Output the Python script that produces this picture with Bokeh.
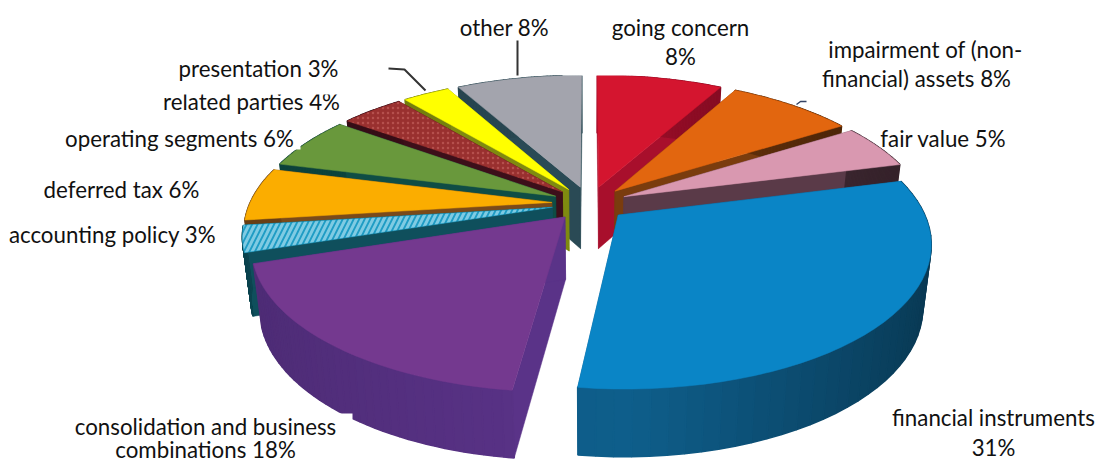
import numpy as np
from bokeh.plotting import figure
from bokeh.models import Range1d, ColumnDataSource
from bokeh.core.properties import value
from bokeh.embed import file_html
from bokeh.resources import INLINE

# ---- data -------------------------------------------------------------
categories = ["going concern", "impairment of (non-financial) assets", "fair value",
              "financial instruments", "consolidation and business combinations",
              "accounting policy", "deferred tax", "operating segments",
              "related parties", "presentation", "other"]
shares = [8, 8, 5, 31, 18, 3, 6, 6, 4, 3, 8]
top_colors = ["#d4152f", "#e2660f", "#d998b0", "#0a85c6", "#74398f", "#1f9cc4",
              "#fbad00", "#69983c", "#99302f", "#ffff00", "#a3a4ad"]
wall_colors = ["#a80f2c", "#7a3c0e", "#5a3a48", "#0f5f8c", "#5a3388", "#0f4f5c",
               "#7a4a1a", "#0f4d45", "#3d0f1a", "#7f8a10", "#2a4a55"]
hatches = [None, None, None, None, None, "right_diagonal_line", None, None, "dot", None, None]
hatch_colors = [None, None, None, None, None, "#7fcbe3", None, None, "#b5504d", None, None]

label_texts = ["other 8%", "going concern", "8%", "impairment of (non-", "financial) assets 8%",
               "fair value 5%", "presentation 3%", "operating segments 6%",
               "deferred tax 6%", "accounting policy 3%", "consolidation and business",
               "combinations 18%", "financial instruments", "31%"]
label_x = [504, 680, 680, 925, 916, 943, 258, 179, 121, 112, 205, 205, 993, 993]
label_y = [27, 27, 56, 49, 78, 138, 68, 138, 189, 234, 426, 449, 417, 447]

# ---- projection --------------------------------------------------------
CX, CY, RX, RY, K, EXPLODE, DEPTH = 589, 203, 302, 137.6, 0.182, 0.125, 62

def project(u, v, lower=False):
    s = 1 / (1 + K * v)
    x = RX * u * s
    y = RY * v * s
    if lower:
        return CX + x * 0.975, CY - y + DEPTH * s ** 0.4
    return CX + x, CY - y

def darken(hex_color, f):
    rgb = [int(hex_color[j:j + 2], 16) for j in (1, 3, 5)]
    return "#%02x%02x%02x" % tuple(int(c * (1 - f)) for c in rgb)

p = figure(width=1099, height=466, output_backend="svg", toolbar_location=None,
           x_range=Range1d(0, 1099), y_range=Range1d(466, 0), min_border=0,
           background_fill_color="white", outline_line_color=None)
p.axis.visible = False
p.grid.visible = False

edges = np.radians(np.cumsum([0] + shares) * 3.6)
mids = (edges[:-1] + edges[1:]) / 2

def poly(xs, ys, fill, hatch=None, hatch_color=None, lw=0.5):
    kw = {}
    if hatch == "dot":
        kw = dict(hatch_pattern=hatch, hatch_color=hatch_color, hatch_scale=5, hatch_weight=1, hatch_alpha=1)
    elif hatch:
        kw = dict(hatch_pattern=hatch, hatch_color=hatch_color, hatch_scale=11, hatch_weight=3, hatch_alpha=1)
    p.patch(list(xs), list(ys), fill_color=fill, line_color=fill, line_width=lw, **kw)

for i in sorted(range(len(shares)), key=lambda j: -np.cos(mids[j])):
    du, dv = EXPLODE * np.sin(mids[i]), EXPLODE * np.cos(mids[i])
    th = np.linspace(edges[i], edges[i + 1], 41)
    u, v = du + np.sin(th), dv + np.cos(th)
    tx, ty = project(u, v)
    bx, by = project(u, v, True)
    ax, ay = project(du, dv)
    alx, aly = project(du, dv, True)
    w = wall_colors[i]
    # radial walls
    poly([ax, tx[0], bx[0], alx], [ay, ty[0], by[0], aly], w)
    poly([ax, tx[-1], bx[-1], alx], [ay, ty[-1], by[-1], aly], w)
    # outer wall, shaded along the rim
    for k in range(len(th) - 1):
        t = (th[k] + th[k + 1]) / 2
        f = max(0, np.sin(t)) * 0.42 + max(0, -np.sin(t)) * 0.14
        poly([tx[k], tx[k + 1], bx[k + 1], bx[k]], [ty[k], ty[k + 1], by[k + 1], by[k]], darken(w, f), lw=1.5)
    # top face
    poly(np.r_[ax, tx], np.r_[ay, ty], top_colors[i], hatches[i], hatch_colors[i])

# white label boxes that mask the scan
p.quad(left=[562, 800, 882, 0, 135, 135], right=[640, 1060, 1010, 352, 345, 300],
       top=[30, 30, 127, 413, 60, 125], bottom=[75, 101, 148, 466, 92, 149],
       fill_color="white", line_color=None)

# leader lines
p.line([517, 517], [40, 75], line_color="#333333", line_width=2)
p.line([388, 404, 425], [68, 69, 90], line_color="#333333", line_width=2)
p.line([796, 800, 806], [104, 101, 101], line_color="#334466", line_width=1.5)

# related parties text is clipped by the box above it
rel_src = ColumnDataSource(dict(x=[251], y=[101], t=["related parties 4%"]))
p.text("x", "y", text="t", source=rel_src, text_font=value("Lato"), text_font_size="22.3px",
       text_align="center", text_baseline="alphabetic", text_color="#111111")
p.quad(left=[135], right=[345], top=[78], bottom=[94], fill_color="white", line_color=None)

src = ColumnDataSource(dict(x=label_x, y=label_y, t=label_texts))
p.text("x", "y", text="t", source=src, text_font=value("Lato"), text_font_size="22.3px",
       text_align="center", text_baseline="alphabetic", text_color="#111111")

open("out.html", "w").write(file_html(p, INLINE))
